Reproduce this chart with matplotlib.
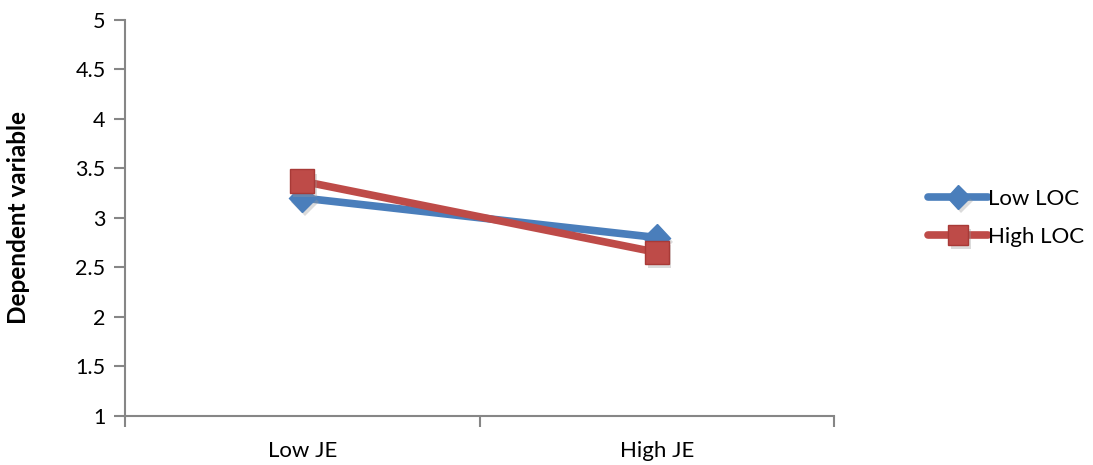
import matplotlib
matplotlib.use("Agg")
import matplotlib.pyplot as plt
import matplotlib.patheffects as pe

plt.rcParams['font.family'] = ['Lato', 'DejaVu Sans']

categories = ["Low JE", "High JE"]
low_loc = [3.2, 2.8]
high_loc = [3.37, 2.65]
series_names = ["Low LOC", "High LOC"]

blue = "#4A7EBB"
red = "#BE4B48"
axis_gray = "#868686"

fig = plt.figure(figsize=(10.93, 4.65), dpi=100)
ax = fig.add_axes([125 / 1093, 1 - 415.5 / 465, (834 - 125) / 1093, (415.5 - 20) / 465])

xpos = [i + 0.5 for i in range(len(categories))]
shadow = [pe.SimplePatchShadow(offset=(2, -3), shadow_rgbFace="#999999", alpha=0.35), pe.Normal()]

ax.plot(xpos, low_loc, color=blue, lw=5.5, marker="D", markersize=14,
        markerfacecolor=blue, markeredgecolor=blue, solid_capstyle="round",
        label=series_names[0], zorder=3, path_effects=shadow)
ax.plot(xpos, high_loc, color=red, lw=5.5, marker="s", markersize=17,
        markerfacecolor=red, markeredgecolor="#A83A37", markeredgewidth=1,
        solid_capstyle="round", label=series_names[1], zorder=4, path_effects=shadow)

ax.set_xlim(0, len(categories))
ax.set_ylim(1, 5)
ax.set_yticks([1 + 0.5 * i for i in range(9)])
ax.set_yticklabels(["1", "1.5", "2", "2.5", "3", "3.5", "4", "4.5", "5"])
ax.set_xticks([0, 1, 2])
ax.set_xticklabels([])
ax.set_xticks(xpos, minor=True)
ax.set_xticklabels(categories, minor=True)
ax.tick_params(axis="x", which="minor", length=0, pad=18, labelsize=16)
ax.tick_params(axis="x", which="major", length=8, color=axis_gray, width=1.5, direction="out")
ax.tick_params(axis="y", length=8, color=axis_gray, width=1.5, direction="out", labelsize=15.5, pad=6)

for side in ["top", "right"]:
    ax.spines[side].set_visible(False)
for side in ["left", "bottom"]:
    ax.spines[side].set_color(axis_gray)
    ax.spines[side].set_linewidth(1.5)

ax.set_ylabel("Dependent variable", fontsize=17.5, fontweight="bold")
ax.yaxis.set_label_coords(-95 / 709, 0.5)

leg = ax.legend(loc="center left", bbox_to_anchor=(1.105, 0.50), frameon=False,
                fontsize=16, handlelength=2.7, handletextpad=0.0, labelspacing=0.8,
                markerscale=0.85)

fig.savefig("out.png", dpi=100)
